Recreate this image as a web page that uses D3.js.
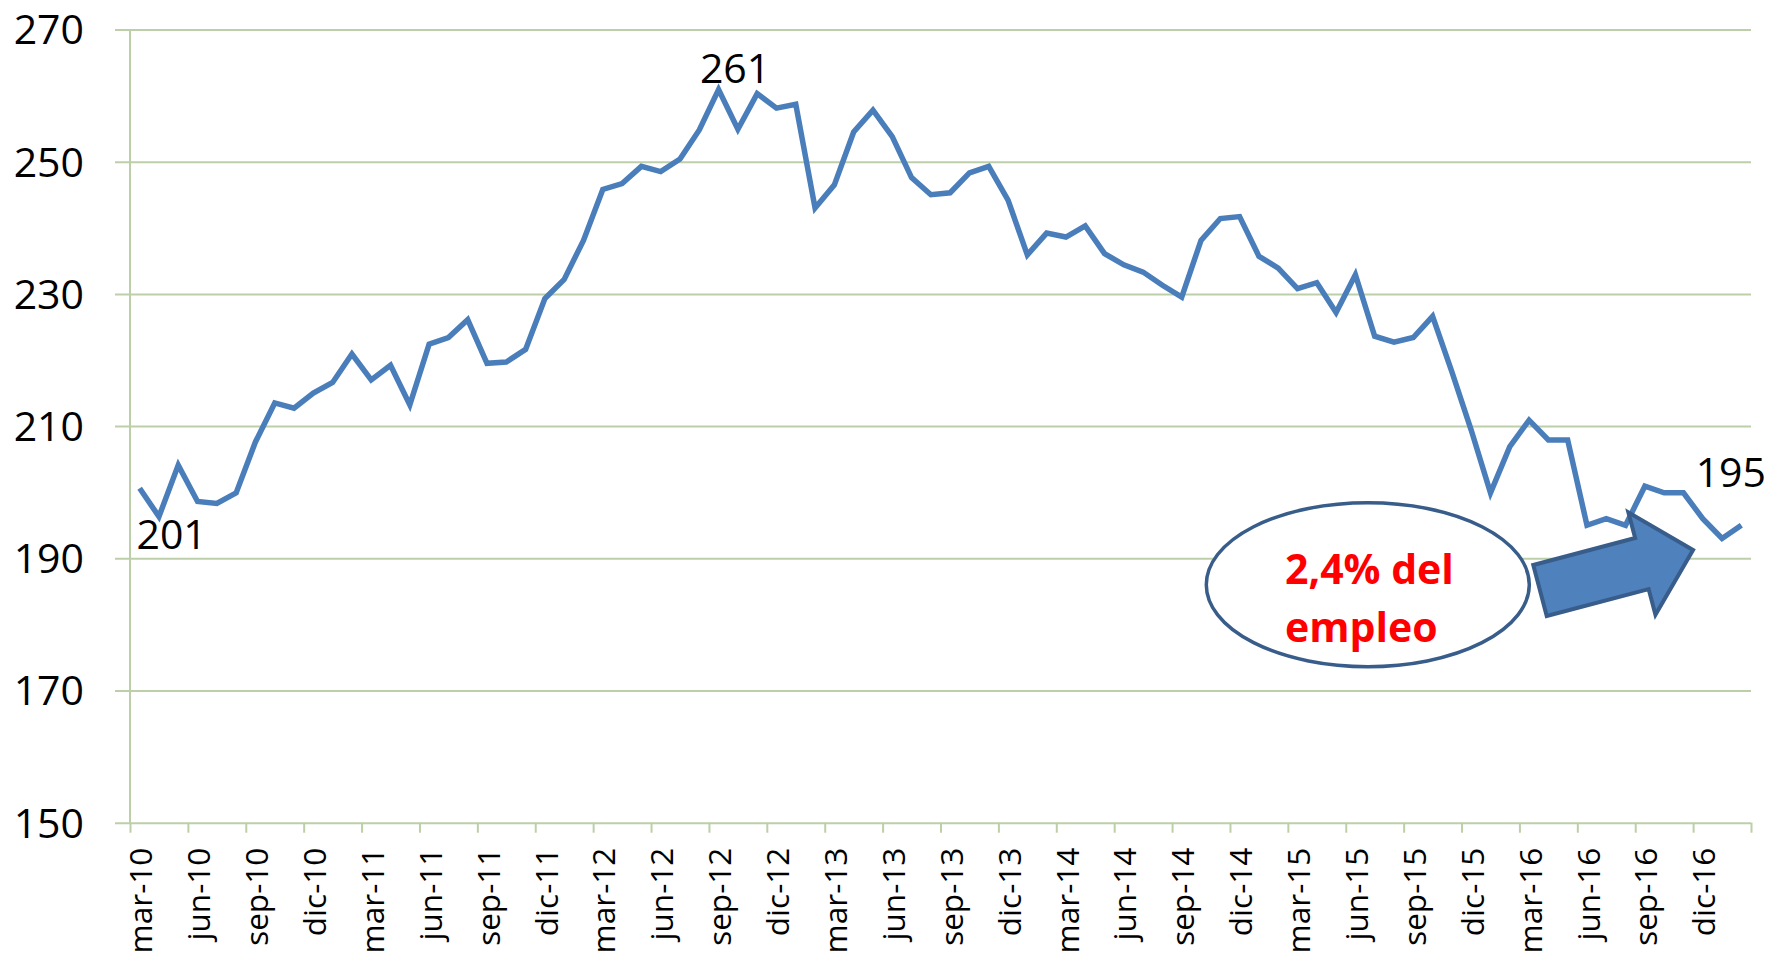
<!DOCTYPE html>
<html>
<head>
<meta charset="utf-8">
<script src="https://cdn.jsdelivr.net/npm/d3@7"></script>
<style>
  body { margin: 0; background: #fff; }
  svg { display: block; font-family: "Open Sans", sans-serif; }
</style>
</head>
<body>
<div id="chart"></div>
<script>
// Month names (Spanish) used for the category labels
const monthNames = ["ene", "feb", "mar", "abr", "may", "jun", "jul", "ago", "sep", "oct", "nov", "dic"];
const firstYear = 10;   // 2010
const firstMonth = 2;   // mar

// Monthly series, mar-10 .. feb-17 (thousands)
const values = [
  200.6, 196.3, 204.1, 198.6, 198.3, 199.9, 207.6, 213.5, 212.7, 215.0,
  216.6, 220.9, 217.0, 219.2, 213.2, 222.4, 223.4, 226.1, 219.5, 219.7,
  221.6, 229.3, 232.2, 238.1, 245.8, 246.7, 249.3, 248.5, 250.4, 254.8,
  260.9, 254.9, 260.3, 258.1, 258.7, 243.0, 246.5, 254.5, 257.8, 253.8,
  247.6, 245.0, 245.3, 248.3, 249.3, 244.2, 235.9, 239.2, 238.6, 240.3,
  236.1, 234.4, 233.3, 231.3, 229.5, 238.1, 241.4, 241.7, 235.7, 233.9,
  230.8, 231.7, 227.2, 232.9, 223.6, 222.7, 223.4, 226.6, 218.2, 209.4,
  199.9, 206.9, 210.9, 207.9, 207.9, 195.0, 196.0, 195.0, 200.9, 199.9,
  199.9, 196.0, 193.0, 195.0
];

const categories = values.map((_, i) => {
  const m = (firstMonth + i) % 12;
  const yr = firstYear + Math.floor((firstMonth + i) / 12);
  return `${monthNames[m]}-${yr}`;
});

const yTicks = [150, 170, 190, 210, 230, 250, 270];

// Points that carry a value label, with label offsets
const pointLabels = [
  { i: 0,  dx: 32,    dy: 61 },
  { i: 30, dx: 16.5,  dy: -7 },
  { i: 83, dx: -10.5, dy: -38.5 }
];

const noteLines = ["2,4% del", "empleo"];

const W = 1769, H = 956;
const plot = { left: 130, right: 1751, top: 29.5, bottom: 822.7 };
const gridColor = "#bccfa8";
const lineColor = "#4a7ebb";

const svg = d3.select("#chart").append("svg")
  .attr("width", W)
  .attr("height", H);

const x = d3.scaleBand().domain(categories).range([plot.left, plot.right]).padding(0);
const xIdx = d3.scaleLinear().domain([0, categories.length]).range([plot.left, plot.right]);
const y = d3.scaleLinear().domain([150, 270]).range([plot.bottom, plot.top]);
const cx = c => x(c) + x.bandwidth() / 2;

// Gridlines + y labels
const yAxis = svg.append("g")
  .attr("transform", `translate(${plot.right},0)`)
  .call(d3.axisLeft(y).tickValues(yTicks).tickSize(plot.right - plot.left + 15).tickPadding(31).tickFormat(d3.format("d")));
yAxis.attr("font-family", null).attr("font-size", null);
yAxis.select(".domain").remove();
yAxis.selectAll("line").attr("stroke", gridColor).attr("stroke-width", 2);
yAxis.selectAll("text").attr("font-size", 41).attr("fill", "#000").attr("dy", "0.35em");

// Vertical axis line
svg.append("line")
  .attr("x1", plot.left).attr("x2", plot.left)
  .attr("y1", y(270)).attr("y2", y(150))
  .attr("stroke", gridColor).attr("stroke-width", 2);

// X tick marks at category boundaries, every 3 months
const xTicks = svg.append("g")
  .attr("transform", `translate(0,${plot.bottom})`)
  .call(d3.axisBottom(xIdx).tickValues(d3.range(0, categories.length + 1, 3)).tickSize(10).tickFormat(""));
xTicks.select(".domain").remove();
xTicks.selectAll("line").attr("stroke", gridColor).attr("stroke-width", 2);

// X labels, rotated
const xLabels = svg.append("g")
  .attr("transform", `translate(0,${plot.bottom})`)
  .call(d3.axisBottom(x).tickValues(categories.filter((d, i) => i % 3 === 0)).tickSize(0));
xLabels.attr("font-family", null).attr("font-size", null);
xLabels.select(".domain").remove();
xLabels.selectAll("text")
  .attr("font-size", 31.5)
  .attr("fill", "#000")
  .attr("text-anchor", "end")
  .attr("x", -25)
  .attr("y", 0)
  .attr("dy", "0.4em")
  .attr("transform", "rotate(-90)");

// Series line
svg.append("path")
  .datum(values)
  .attr("fill", "none")
  .attr("stroke", lineColor)
  .attr("stroke-width", 5.5)
  .attr("stroke-linejoin", "miter")
  .attr("stroke-miterlimit", 4)
  .attr("d", d3.line().x((d, i) => cx(categories[i])).y(d => y(d)));

// Value labels
svg.selectAll(".vlabel")
  .data(pointLabels)
  .enter()
  .append("text")
  .attr("class", "vlabel")
  .attr("x", d => cx(categories[d.i]) + d.dx)
  .attr("y", d => y(values[d.i]) + d.dy)
  .attr("text-anchor", "middle")
  .attr("font-size", 41)
  .attr("fill", "#000")
  .text(d => d3.format(".0f")(values[d.i]));

// Callout ellipse
svg.append("ellipse")
  .attr("cx", 1367.8).attr("cy", 584.7)
  .attr("rx", 161.5).attr("ry", 82)
  .attr("fill", "#fff")
  .attr("stroke", "#385d8a")
  .attr("stroke-width", 3.5);

svg.append("g")
  .selectAll("text")
  .data(noteLines)
  .enter()
  .append("text")
  .attr("x", 1285)
  .attr("y", (d, i) => 584 + i * 58)
  .attr("font-size", 41)
  .attr("font-weight", "bold")
  .attr("fill", "#ff0000")
  .text(d => d);

// Block arrow
const arrowLen = 158.3, shaftHalf = 26.4, headHalf = 53, headStart = 105.4;
const arrowPts = [
  [0, -shaftHalf], [headStart, -shaftHalf], [headStart, -headHalf],
  [arrowLen, 0], [headStart, headHalf], [headStart, shaftHalf], [0, shaftHalf]
];
svg.append("polygon")
  .attr("transform", "translate(1540,590.5) rotate(-14.8)")
  .attr("points", arrowPts.map(p => p.join(",")).join(" "))
  .attr("fill", "#4f81bd")
  .attr("stroke", "#385d8a")
  .attr("stroke-width", 4)
  .attr("stroke-linejoin", "miter");
</script>
</body>
</html>
